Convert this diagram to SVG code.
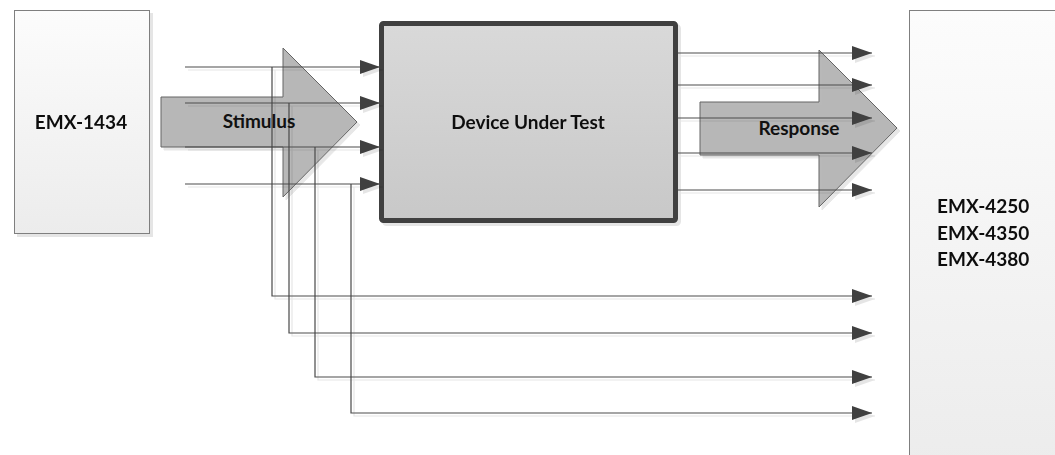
<svg xmlns="http://www.w3.org/2000/svg" width="1055" height="455" viewBox="0 0 1055 455">
<style>
.box{stroke:#7f7f7f;stroke-width:1;fill:url(#gLight)}
.dut{stroke:#404040;stroke-width:5;fill:url(#gDut)}
.big{fill:#b2b2b2;stroke:#595959;stroke-width:1;opacity:0.92}
.con{fill:none;stroke:#4a4a4a;stroke-width:1.2}
.lbl{font-family:Lato,"Liberation Sans",sans-serif;font-weight:bold;font-size:19px;fill:#111}
</style>
<defs>
<linearGradient id="gLight" x1="0" y1="0" x2="0" y2="1"><stop offset="0" stop-color="#fcfcfc"/><stop offset="1" stop-color="#ececec"/></linearGradient>
<linearGradient id="gDut" x1="0" y1="0" x2="0" y2="1"><stop offset="0" stop-color="#d9d9d9"/><stop offset="1" stop-color="#c8c8c8"/></linearGradient>
<filter id="sh" x="-10%" y="-10%" width="130%" height="130%">
<feOffset in="SourceAlpha" dx="3" dy="3" result="o"/>
<feFlood flood-color="#000" flood-opacity="0.1"/>
<feComposite in2="o" operator="in" result="s"/>
<feMerge><feMergeNode in="s"/><feMergeNode in="SourceGraphic"/></feMerge>
</filter>
<marker id="ah" markerWidth="20" markerHeight="14" refX="20" refY="7" orient="auto" markerUnits="userSpaceOnUse">
<path d="M0,0 L20,7 L0,14 Z" fill="#404040"/>
</marker>
</defs>
<g id="emx1434" filter="url(#sh)">
<rect class="box" x="14.5" y="10.5" width="135" height="223"/>
<text class="lbl" x="81" y="129" text-anchor="middle">EMX-1434</text>
</g>
<g id="emx4xxx" filter="url(#sh)">
<rect class="box" x="909.5" y="10.5" width="160" height="460"/>
<text class="lbl" x="937" y="213">EMX-4250</text>
<text class="lbl" x="937" y="240">EMX-4350</text>
<text class="lbl" x="937" y="266">EMX-4380</text>
</g>
<g id="dut" filter="url(#sh)">
<rect class="dut" x="381.5" y="23.5" width="294" height="197" rx="2"/>
<text class="lbl" x="528" y="129" text-anchor="middle">Device Under Test</text>
</g>
<g id="stimulus" filter="url(#sh)">
<polygon class="big" points="161,97 283,97 283,48 357,122 283,197 283,147 161,147"/>
</g>
<g id="response" filter="url(#sh)">
<polygon class="big" points="700,102 819,102 819,50 897,128 819,207 819,155 700,155"/>
</g>
<g id="connectors" filter="url(#sh)">
<path class="con" d="M185,67 H380" marker-end="url(#ah)"/>
<path class="con" d="M185,103 H380" marker-end="url(#ah)"/>
<path class="con" d="M185,147 H380" marker-end="url(#ah)"/>
<path class="con" d="M185,184 H380" marker-end="url(#ah)"/>
<path class="con" d="M272,67 V296 H872" marker-end="url(#ah)"/>
<path class="con" d="M289,103 V333 H872" marker-end="url(#ah)"/>
<path class="con" d="M315,147 V377 H872" marker-end="url(#ah)"/>
<path class="con" d="M351,184 V413 H872" marker-end="url(#ah)"/>
<path class="con" d="M678,53 H872" marker-end="url(#ah)"/>
<path class="con" d="M678,85 H872" marker-end="url(#ah)"/>
<path class="con" d="M678,118 H872" marker-end="url(#ah)"/>
<path class="con" d="M678,153 H872" marker-end="url(#ah)"/>
<path class="con" d="M678,190 H872" marker-end="url(#ah)"/>
</g>
<g id="labels">
<text class="lbl" x="259" y="128" text-anchor="middle">Stimulus</text>
<text class="lbl" x="799" y="135" text-anchor="middle">Response</text>
</g>
</svg>
